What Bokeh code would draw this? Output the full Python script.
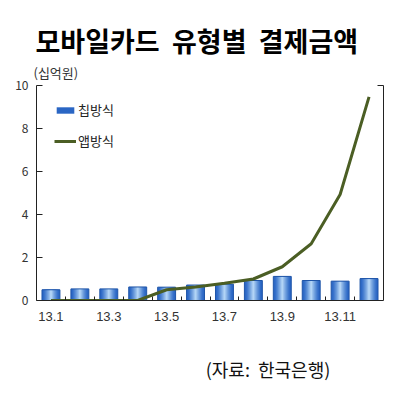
from bokeh.plotting import figure
from bokeh.models import (Range1d, LinearAxis, FixedTicker, Title, Legend, LegendItem, ColumnDataSource)
from bokeh.embed import file_html
from bokeh.resources import INLINE
import numpy as np

# ---- data ----
months = ["13.1", "13.2", "13.3", "13.4", "13.5", "13.6", "13.7", "13.8", "13.9", "13.10", "13.11", "13.12"]
chip = [0.50, 0.54, 0.54, 0.63, 0.62, 0.72, 0.76, 0.93, 1.12, 0.93, 0.90, 1.02]
app = [0.0, 0.0, 0.0, 0.0, 0.50, 0.63, 0.80, 1.00, 1.57, 2.64, 4.93, 9.47]
y_ticks = [0, 2, 4, 6, 8, 10]
shown_labels = ["13.1", "13.3", "13.5", "13.7", "13.9", "13.11"]
title_words = ["모바일카드", "유형별", "결제금액"]
unit_text = "(십억원)"
source_words = ["(자료:", "한국은행)"]
legend_names = ["칩방식", "앱방식"]

FONT = "Noto Sans CJK KR"

xc = np.arange(len(months)) + 0.5
src = ColumnDataSource(dict(x=xc, chip=chip, app=app))

p = figure(width=392, height=388, output_backend="svg", toolbar_location=None,
           x_range=Range1d(0, len(months)), y_range=Range1d(0, 10),
           min_border_left=36, min_border_right=9, min_border_top=85, min_border_bottom=88)
p.outline_line_color = None
p.xgrid.visible = False
p.ygrid.visible = False
p.background_fill_color = "white"
p.border_fill_color = "white"

# y axis (left)
ya = p.yaxis[0]
ya.ticker = FixedTicker(ticks=y_ticks, minor_ticks=[])
ya.major_tick_in = 6
ya.major_tick_out = 0
ya.minor_tick_line_color = None
ya.axis_line_color = "#222222"
ya.major_tick_line_color = "#222222"
ya.major_label_text_font = FONT
ya.major_label_text_font_size = "12px"
ya.major_label_text_color = "#333333"
ya.major_label_standoff = 8

# right axis
ra = LinearAxis(ticker=FixedTicker(ticks=[10], minor_ticks=[]))
ra.major_tick_in = 6
ra.major_tick_out = 0
ra.major_label_text_color = None
ra.major_label_standoff = 0
ra.axis_line_color = "#222222"
ra.major_tick_line_color = "#222222"
p.add_layout(ra, "right")

# x axis
xa = p.xaxis[0]
label_pos = [float(xc[months.index(m)]) for m in shown_labels]
xa.ticker = FixedTicker(ticks=label_pos, minor_ticks=list(range(1, len(months))))
xa.major_label_overrides = {pos: m for pos, m in zip(label_pos, shown_labels)}
xa.major_tick_line_color = None
xa.minor_tick_in = 4
xa.minor_tick_out = 0
xa.minor_tick_line_color = "#222222"
xa.axis_line_color = "#222222"
xa.major_label_text_font = "Liberation Sans"
xa.major_label_text_font_size = "13px"
xa.major_label_text_color = "#333333"
xa.major_label_standoff = 5

# source note: axis label of an invisible second bottom axis (shifted right by leading spaces)
sa = LinearAxis(ticker=FixedTicker(ticks=[], minor_ticks=[]))
sa.axis_line_color = None
sa.major_tick_line_color = None
sa.minor_tick_line_color = None
sa.major_tick_in = 0
sa.major_tick_out = 0
sa.minor_tick_out = 0
sa.major_label_standoff = 0
sa.axis_label = "\u3000" * 6 + "\u00a0\u00a0" + "\u00a0\u00a0".join(source_words)
sa.axis_label_standoff = 32
sa.axis_label_text_font = FONT
sa.axis_label_text_font_size = "18px"
sa.axis_label_text_font_style = "normal"
sa.axis_label_text_color = "#111111"
p.add_layout(sa, "below")

# gradient-like bars: nested vbars, lighter toward the centre
W = 0.62
edge = np.array([38, 100, 196])
mid = np.array([178, 212, 245])
n = 8
base = p.vbar(x="x", top="chip", width=W, source=src, fill_color="#2a66c4", line_color=None)
for i in range(1, n):
    t = i / (n - 1)
    c = (edge + (mid - edge) * t ** 1.3).astype(int)
    col = "#%02x%02x%02x" % tuple(c)
    p.vbar(x="x", top="chip", width=W * (1 - 0.9 * t), source=src, fill_color=col, line_color=None)
p.vbar(x="x", top="chip", width=W, source=src, fill_color=None, line_color="#1f55a8", line_width=1)

ln = p.line(x="x", y="app", source=src, line_color="#4b5e24", line_width=3)

legend = Legend(items=[LegendItem(label=legend_names[0], renderers=[base]),
                       LegendItem(label=legend_names[1], renderers=[ln])],
                location=(18, 150), orientation="vertical")
legend.glyph_width = 22
legend.glyph_height = 8
legend.label_height = 8
legend.spacing = 12
legend.padding = 0
legend.margin = 0
legend.label_standoff = 2
legend.border_line_color = None
legend.background_fill_alpha = 0
legend.label_text_font = FONT
legend.label_text_font_size = "13px"
legend.label_text_color = "#222222"
p.add_layout(legend, "center")

# unit label (closest to the frame), then main title
unit = Title(text=unit_text, align="left", offset=-3, standoff=7,
             text_font=FONT, text_font_size="13px", text_font_style="normal", text_color="#333333")
p.add_layout(unit, "above")
gap = "\u00a0\u00a0"
main = Title(text=gap.join(title_words), align="left", offset=-1, standoff=-4,
             text_font=FONT, text_font_size="27px", text_font_style="bold", text_color="black")
p.add_layout(main, "above")

open("out.html", "w").write(file_html(p, INLINE))
